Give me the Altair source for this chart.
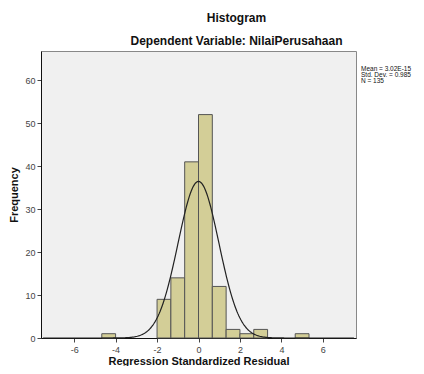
import altair as alt
import pandas as pd

# Histogram bins (width 2/3) and counts
bin_start = [-14/3, -2.0, -4/3, -2/3, 0.0, 2/3, 4/3, 2.0, 8/3, 14/3]
counts = [1, 9, 14, 41, 52, 12, 2, 1, 2, 1]
bin_width = 2/3

stat_mean = 3.02e-15
stat_sd = 0.985
stat_n = 135
stats_lines = ["Mean = 3.02E-15", "Std. Dev. = 0.985", "N = 135"]

x_ticks = [-6, -4, -2, 0, 2, 4, 6]
y_ticks = [0, 10, 20, 30, 40, 50, 60]

bars_df = pd.DataFrame({
    "start": bin_start,
    "end": [s + bin_width for s in bin_start],
    "count": counts,
})

W, H = 315, 287
xscale = alt.Scale(domain=[-7.6, 7.6], nice=False, zero=False)
yscale = alt.Scale(domain=[0, 66.8], nice=False)

bars = alt.Chart(bars_df).mark_bar(
    fill="#D3CE97", stroke="#555555", strokeWidth=1
).encode(
    x=alt.X("start:Q", scale=xscale,
            axis=alt.Axis(values=x_ticks, title="Regression Standardized Residual",
                          labelExpr="toString(datum.value)",
                          grid=False, tickSize=4, labelFontSize=9, labelColor="#444444",
                          titleFontSize=11, titleFont="Liberation Sans",
                          labelFont="Liberation Sans", titleFontWeight="bold",
                          titleColor="#111111", domainColor="#111111", tickColor="#444444",
                          titlePadding=1, labelPadding=3)),
    x2="end:Q",
    y=alt.Y("count:Q", scale=yscale,
            axis=alt.Axis(values=y_ticks, title="Frequency", grid=False, tickSize=4,
                          labelFontSize=9, labelColor="#444444", labelFont="Liberation Sans",
                          titleFont="Liberation Sans", titleFontSize=11,
                          titleFontWeight="bold", titleColor="#111111",
                          domainColor="#111111", tickColor="#444444", titlePadding=5)),
    y2=alt.datum(0),
)

curve = alt.Chart(alt.sequence(-7.5, 7.55, 0.05, as_="x")).transform_calculate(
    y=f"{stat_n}*{bin_width}*densityNormal(datum.x, {stat_mean}, {stat_sd})"
).mark_line(color="#222222", strokeWidth=1.2).encode(
    x=alt.X("x:Q", scale=xscale),
    y=alt.Y("y:Q", scale=yscale),
)

stats_df = pd.DataFrame({"t": ["\n".join(stats_lines)]})
stats = alt.Chart(stats_df).mark_text(
    align="left", baseline="top", fontSize=6.5, font="Liberation Sans", color="#111111",
    lineBreak="\n", lineHeight=6
).encode(
    text="t:N",
    x=alt.value(W + 5),
    y=alt.value(15),
)

chart = alt.layer(bars, curve, stats).properties(
    width=W, height=H,
    autosize=alt.AutoSizeParams(type="none"),
    padding={"left": 33, "top": 43, "right": 60, "bottom": 28},
    title=alt.TitleParams(
        text=["Histogram", "Dependent Variable: NilaiPerusahaan"],
        anchor="middle", fontSize=12, font="Liberation Sans", fontWeight="bold",
        color="#111111", lineHeight=23, dx=38, offset=3,
    ),
).configure_view(fill="#F0F0F0", stroke="#888888", strokeWidth=1)

chart.save("out.html", embed_options={"renderer": "svg", "actions": False})
